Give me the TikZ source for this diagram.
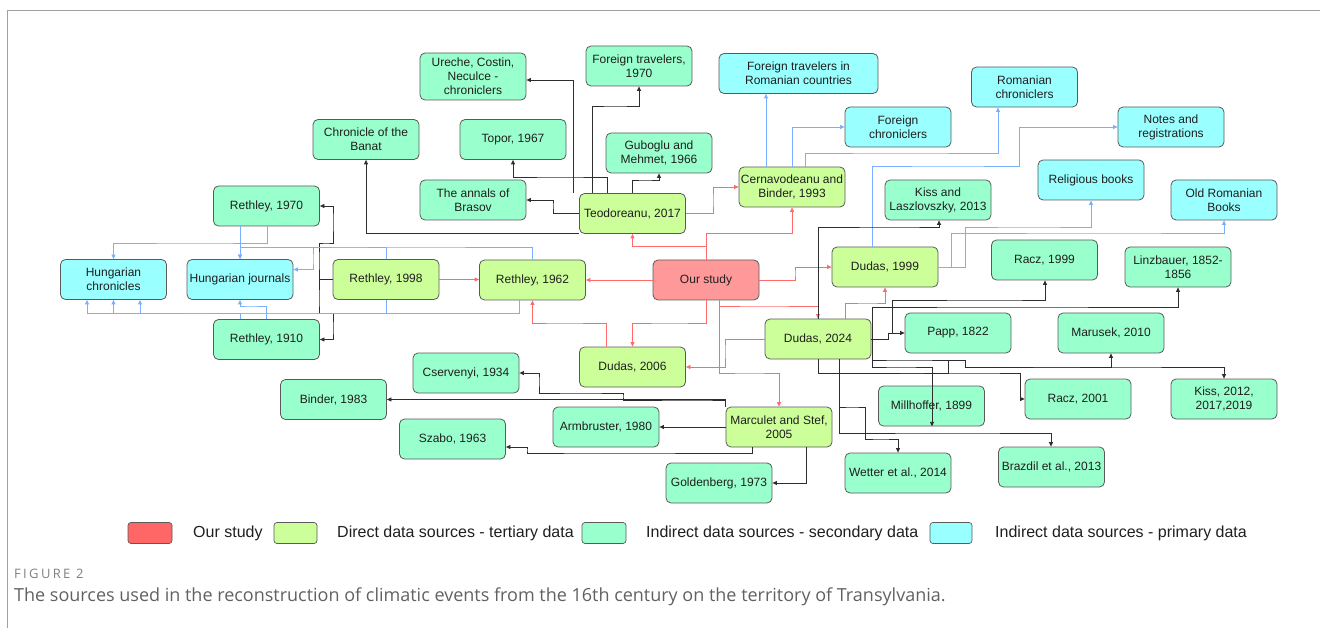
\documentclass[tikz,border=0pt]{standalone}
\usepackage{fontspec}
\setmainfont{Liberation Sans}
\newfontfamily\capfont{Open Sans}
\newfontfamily\figfont[LetterSpace=18]{Open Sans}
\usetikzlibrary{arrows.meta}
\definecolor{cRed}{HTML}{FF9999}
\definecolor{cDir}{HTML}{CCFF99}
\definecolor{cSec}{HTML}{99FFCC}
\definecolor{cPri}{HTML}{99FFFF}
\definecolor{cBorder}{HTML}{5A5A5A}
\definecolor{eRed}{HTML}{FF6B6B}
\definecolor{eBlue}{HTML}{7AB0FF}
\definecolor{eBlack}{HTML}{2E2E2E}
\definecolor{legRed}{HTML}{FF6666}
\definecolor{frameGray}{HTML}{A0A0A0}
\begin{document}
\begin{tikzpicture}[x=1pt,y=-1pt,
  box/.style={draw=cBorder, line width=0.8pt, rounded corners=5pt, align=center,
    inner sep=0pt, minimum width=106pt, minimum height=40pt,
    font=\fontsize{12}{14.2}\selectfont, text=black!88},
  ours/.style={box, fill=cRed},
  dir/.style={box, fill=cDir},
  sec/.style={box, fill=cSec},
  pri/.style={box, fill=cPri},
  edge/.style={line width=0.8pt, -{Triangle[length=4.5pt,width=4pt]}},
  redE/.style={edge, draw=eRed},
  blueE/.style={edge, draw=eBlue},
  blackE/.style={edge, draw=eBlack},
  legbox/.style={draw=cBorder, line width=0.7pt, rounded corners=3pt, minimum width=44pt, minimum height=21pt, inner sep=0pt},
  legtext/.style={anchor=west, inner sep=0pt, font=\fontsize{16}{18}\selectfont, text=black!88}
]
\useasboundingbox (0,0) rectangle (1320,628);
% frame
\draw[frameGray, line width=1pt] (7,628) -- (7,11) -- (1320,11);

% nodes
\node[sec] (banat) at (366,139.5) {Chronicle of the\\Banat};
\node[sec] (r1970) at (266.5,206) {Rethley, 1970};
\node[sec, minimum height=47pt] (ureche) at (473,76.5) {Ureche, Costin,\\Neculce -\\chroniclers};
\node[sec] (ft1970) at (639,66) {Foreign travelers,\\1970};
\node[pri, minimum width=159pt] (ftrc) at (798.5,73.5) {Foreign travelers in\\Romanian countries};
\node[sec] (topor) at (513,139.5) {Topor, 1967};
\node[sec] (gub) at (659,153) {Guboglu and\\Mehmet, 1966};
\node[sec] (annals) at (473,200) {The annals of\\Brasov};
\node[dir] (teo) at (632.5,213.5) {Teodoreanu, 2017};
\node[dir] (cern) at (792,187) {Cernavodeanu and\\Binder, 1993};
\node[pri] (fc) at (898,127) {Foreign\\chroniclers};
\node[pri] (rc) at (1024.5,87) {Romanian\\chroniclers};
\node[pri] (nr) at (1171,127) {Notes and\\registrations};
\node[pri] (rb) at (1091,180) {Religious books};
\node[sec] (kl) at (938,200) {Kiss and\\Laszlovszky, 2013};
\node[pri] (orb) at (1224,200) {Old Romanian\\Books};
\node[sec] (racz99) at (1044.5,260) {Racz, 1999};
\node[sec] (linz) at (1178,267) {Linzbauer, 1852-\\1856};
\node[dir] (d1999) at (885,267) {Dudas, 1999};
\node[pri] (hc) at (113.5,279.5) {Hungarian\\chronicles};
\node[pri] (hj) at (240,279.5) {Hungarian journals};
\node[dir] (r1998) at (386,279.5) {Rethley, 1998};
\node[sec] (r1910) at (266.5,339.5) {Rethley, 1910};
\node[dir] (r1962) at (532.5,280) {Rethley, 1962};
\node[ours] (our) at (706,280) {Our study};
\node[dir] (d2006) at (632.5,367) {Dudas, 2006};
\node[dir] (d2024) at (818,339) {Dudas, 2024};
\node[sec] (papp) at (958,333) {Papp, 1822};
\node[sec] (marusek) at (1111,333) {Marusek, 2010};
\node[sec] (mill) at (931.5,406) {Millhoffer, 1899};
\node[sec] (racz01) at (1078,399) {Racz, 2001};
\node[sec] (kiss12) at (1224,399) {Kiss, 2012,\\2017,2019};
\node[sec] (cserv) at (466,373) {Cservenyi, 1934};
\node[sec] (binder) at (333.5,399.5) {Binder, 1983};
\node[sec] (szabo) at (452.5,439) {Szabo, 1963};
\node[sec] (armb) at (606,427) {Armbruster, 1980};
\node[dir] (marc) at (779,427) {Marculet and Stef,\\2005};
\node[sec] (gold) at (719,483) {Goldenberg, 1973};
\node[sec] (wetter) at (898,473) {Wetter et al., 2014};
\node[sec] (brazdil) at (1051.5,467) {Brazdil et al., 2013};

% red edges
\draw[redE] (our.west) -- (r1962.east);
\draw[redE] (our.north) -- (706,246) -| (teo.south);
\draw[redE] (our.north) -- (706,233) -| (cern.south);
\draw[redE] (teo.east) -| (713,200) |- (cern.west);
\draw[redE] (our.east) -| (795,273) |- (d1999.west);
\draw[redE] (our.south) |- (670,323) -| (d2006.north);
\draw[redE] ([xshift=-26.5pt]d2006.north) |- (560,323) -| (r1962.south);
\draw[redE] (r1998.east) -- (r1962.west |- r1998.east);
\draw[redE] ([xshift=13pt]our.south) |- (760,306) -| (d2024.north);
\draw[redE] ([xshift=13pt]our.south) |- (750,373) -| (marc.north);
\draw[redE] (d2024.west) -| (725,350) |- (d2006.east);
\draw[redE] ([xshift=27pt]d2024.north) |- (870,303) -| (d1999.south);

% black edges from Teodoreanu
\draw[blackE] ([xshift=-59.5pt]teo.north) |- ([yshift=-3.5pt]ureche.east);
\draw[blackE] ([xshift=-40.5pt]teo.north) |- (615,106) -| (ft1970.south);
\draw[blackE] ([xshift=-25.5pt]teo.north) |- (560,177) -| (topor.south);
\draw[blackE] (teo.north) |- (645,180) -| (gub.south);
\draw[blackE] (teo.west) -| (553,205) |- (annals.east);
\draw[blackE] (teo.south west) -| (banat.south);

% black edges from Rethley 1998
\draw[blackE] (r1998.west) -| (319,260) |- (326,243) -| (333,220) |- (r1970.east);
\draw[blackE] (r1998.west) -| (319,300) |- (326,313) -| (333,330) |- (r1910.east);

% blue edges (Hungarian sources)
\draw[blueE] ([xshift=0.5pt]r1970.south) |- (200,243) -| (hc.north);
\draw[blueE] ([xshift=-26.5pt]r1970.south) -- (hj.north);
\draw[blueE] (r1910.north) |- (250,306) -| (hj.south);
\draw[blueE] ([xshift=-26.5pt]r1910.north) |- (190,313) -| ([xshift=26.5pt]hc.south);
\draw[blueE] (r1998.south) |- (250,313) -| (hc.south);
\draw[blueE] ([xshift=-13.5pt]r1962.south) |- (250,313) -| ([xshift=-26.5pt]hc.south);
\draw[blueE] (r1962.north) |- (400,247) -| (hj.north);
\draw[blueE] (r1998.north) |- (350,247) -| (313,260) |- ([yshift=10pt]hj.east);

% blue edges (Romanian sources)
\draw[blueE] ([xshift=-26pt]cern.north) -- ([xshift=-32.5pt]ftrc.south);
\draw[blueE] (cern.north) |- (fc.west);
\draw[blueE] ([xshift=13pt]cern.north) |- (900,153) -| ([xshift=-26.5pt]rc.south);
\draw[blueE] ([xshift=-13pt]d1999.north) |- (950,166) -| (1019,140) |- (nr.west);
\draw[blueE] (d1999.east) -| (965,240) |- (1030,227) -| (rb.south);
\draw[blueE] (d1999.east) -| (951,250) |- (1100,233) -| (orb.south);

% black edges from Dudas 2024
\draw[blackE] (d2024.north) |- (900,227) -| ([xshift=1pt]kl.south);
\draw[blackE] (d2024.east) -| (888,336) |- (papp.west);
\draw[blackE] (d2024.east) -| (888,333) -| (892,320) |- (1000,300) -| ([xshift=0.5pt]racz99.south);
\draw[blackE] ([xshift=1pt]d2024.east) |- (1000,307) -| (linz.south);
\draw[blackE] ([xshift=1pt]d2024.east) |- (900,367) -| ([xshift=0.5pt]mill.south);
\draw[blackE] ([xshift=1pt]d2024.east) |- (900,360) -| (965,364) |- (1100,367) -| (kiss12.north);
\draw[blackE] (d2024.south) |- (900,373) -| (948,365) |- (955,360) -| (965,364) |- (1050,367) -| (marusek.south);
\draw[blackE] (d2024.south) |- (980,373) -| (1020,390) |- (racz01.west);
\draw[blackE] ([xshift=21pt]d2024.south) |- (852,407) -| (865,420) |- (880,439) -| (wetter.north);
\draw[blackE] ([xshift=21pt]d2024.south) |- (950,433) -| ([xshift=-0.5pt]brazdil.north);

% black edges from Marculet
\draw[blackE] (marc.west) -- (armb.east);
\draw[blackE] ([xshift=27pt]marc.south) |- (gold.east);
\draw[blackE] ([xshift=-27pt]marc.south) |- (600,453) -| (527,450) |- ([yshift=-8pt]szabo.east);
\draw[blackE] (marc.north west) |- (binder.east);
\draw[blackE] (marc.north west) |- (700,400) -| (623,396) |- (580,393) -| (539,380) |- (cserv.east);

% legend
\node[legbox, fill=legRed] (lg1) at (150,533) {};
\node[legtext] (lt1) at (193,533) {Our study};
\node[legbox, fill=cDir, minimum width=43pt] (lg2) at (295.5,533) {};
\node[legtext] (lt2) at (337,533) {Direct data sources - tertiary data};
\node[legbox, fill=cSec] (lg3) at (604,533) {};
\node[legtext] (lt3) at (646,533) {Indirect data sources - secondary data};
\node[legbox, fill=cPri, minimum width=42pt] (lg4) at (951,533) {};
\node[legtext] (lt4) at (995,533) {Indirect data sources - primary data};

% caption
\node[anchor=west, inner sep=0pt, text=black!50, font=\figfont\fontsize{13}{15}\selectfont] (fig) at (14,574) {FIGURE 2};
\node[anchor=west, inner sep=0pt, text=black!62, font=\capfont\fontsize{18}{20}\selectfont] (cap) at (14,597) {The sources used in the reconstruction of climatic events from the 16th century on the territory of Transylvania.};
\end{tikzpicture}
\end{document}
